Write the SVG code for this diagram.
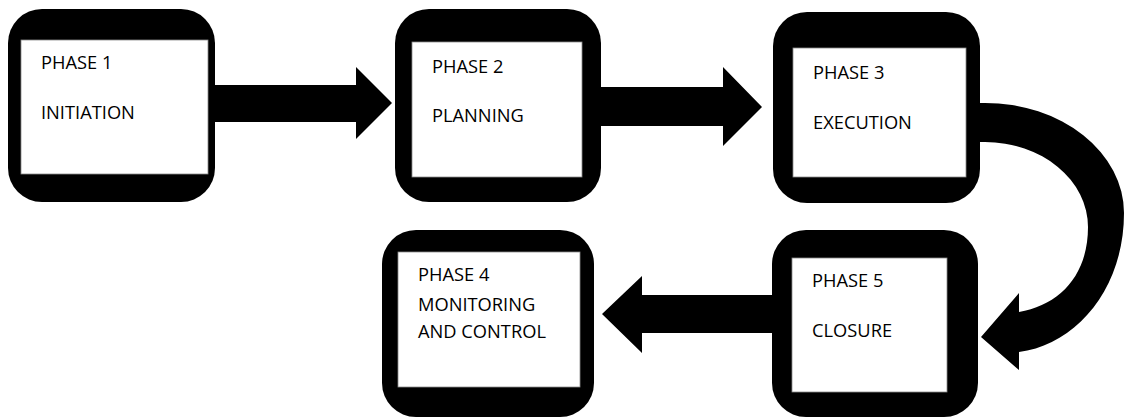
<svg xmlns="http://www.w3.org/2000/svg" width="1124" height="419" viewBox="0 0 1124 419">
  <style>
    .frame { fill: #000; }
    .panel { fill: #fff; stroke: #8a8a8a; stroke-width: 0.8; }
    .label { font-family: "Open Sans", "Liberation Sans", sans-serif; font-size: 18.3px; fill: #000; }
    .arrow { fill: #000; }
  </style>
  <rect width="1124" height="419" fill="#fff"/>

  <!-- connectors -->
  <g id="connectors">
    <!-- Phase 1 to Phase 2 -->
    <polygon class="arrow" points="213,85 356,85 356,67 392,103 356,139 356,122 213,122"/>
    <!-- Phase 2 to Phase 3 -->
    <polygon class="arrow" points="598,87 723,87 723,67 762,107 723,146 723,126 598,126"/>
    <!-- Phase 3 curving down to Phase 5 -->
    <path class="arrow" d="M976,103 L985,103 A139 110 0 0 1 1124,213 C1124,290 1075,345 1019,352 L1019,370 L981,337 L1019,293 L1019,312 C1060,305 1088,275 1088,227 A103 85 0 0 0 985,142 L976,142 Z"/>
    <!-- Phase 5 to Phase 4 -->
    <polygon class="arrow" points="775,295 642,295 642,276 602,314 642,353 642,333 775,333"/>
  </g>

  <g id="phase1">
    <rect class="frame" x="8" y="9" width="207" height="193" rx="34"/>
    <rect class="panel" x="21" y="40" width="187" height="134"/>
    <text class="label" x="41" y="69">PHASE 1</text>
    <text class="label" x="41" y="119">INITIATION</text>
  </g>

  <g id="phase2">
    <rect class="frame" x="395" y="9" width="206" height="193" rx="34"/>
    <rect class="panel" x="412" y="42" width="170" height="135"/>
    <text class="label" x="432" y="73">PHASE 2</text>
    <text class="label" x="432" y="122">PLANNING</text>
  </g>

  <g id="phase3">
    <rect class="frame" x="773" y="12" width="207" height="191" rx="34"/>
    <rect class="panel" x="793" y="48" width="173" height="129"/>
    <text class="label" x="813" y="79">PHASE 3</text>
    <text class="label" x="813" y="129">EXECUTION</text>
  </g>

  <g id="phase4">
    <rect class="frame" x="382" y="230" width="212" height="187" rx="34"/>
    <rect class="panel" x="398" y="252" width="182" height="135"/>
    <text class="label" x="418" y="281">PHASE 4</text>
    <text class="label" x="418" y="311">MONITORING</text>
    <text class="label" x="418" y="338">AND CONTROL</text>
  </g>

  <g id="phase5">
    <rect class="frame" x="772" y="230" width="206" height="187" rx="34"/>
    <rect class="panel" x="792" y="258" width="155" height="134"/>
    <text class="label" x="812" y="287">PHASE 5</text>
    <text class="label" x="812" y="337">CLOSURE</text>
  </g>
</svg>
